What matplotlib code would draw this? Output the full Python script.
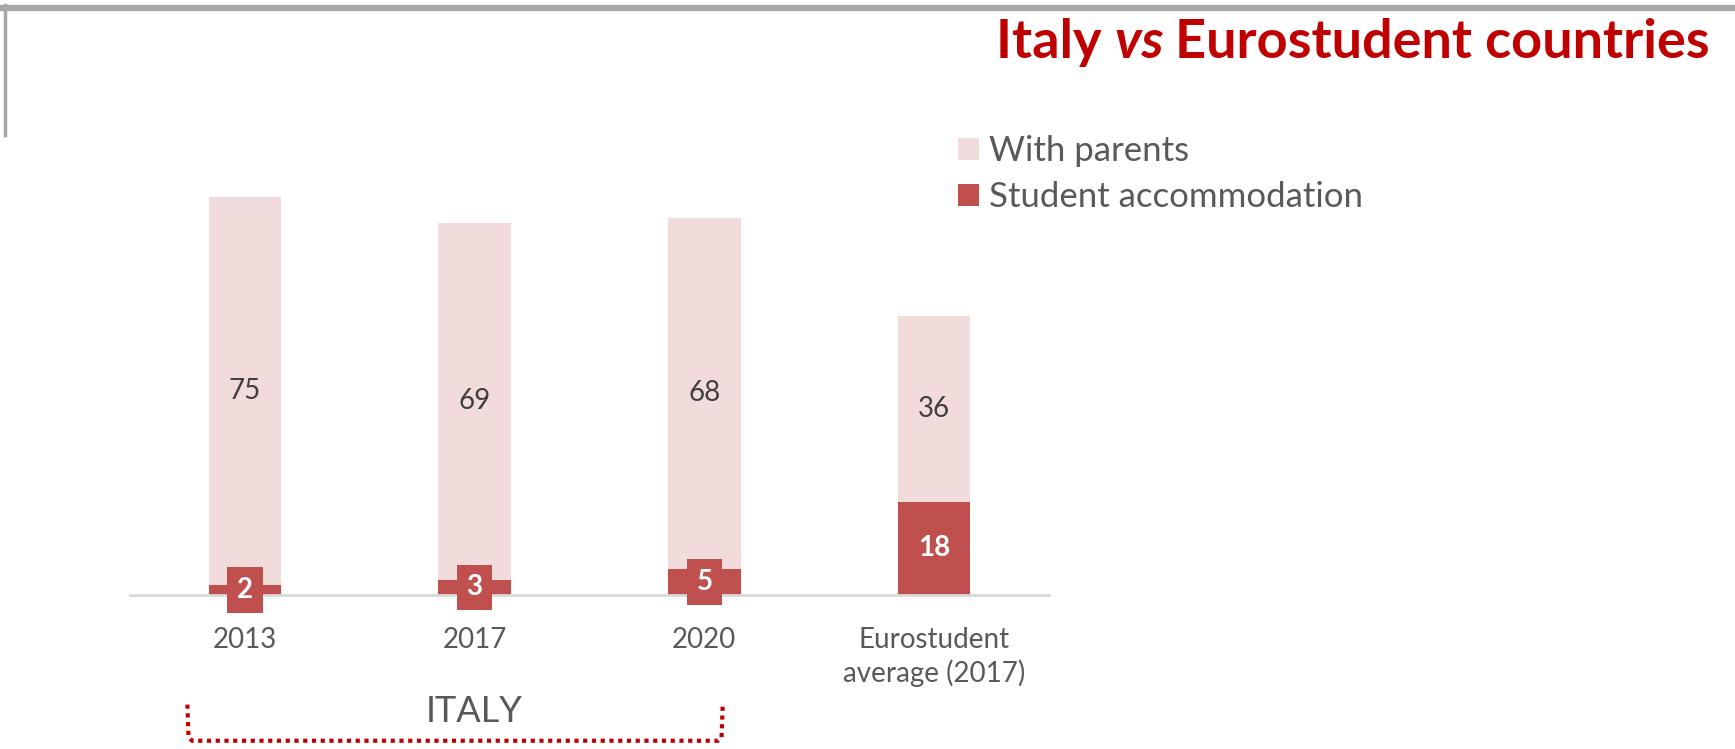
import numpy as np
import matplotlib.pyplot as plt
from matplotlib.lines import Line2D

plt.rcParams['font.family'] = ['Lato', 'DejaVu Sans']

categories = ['2013', '2017', '2020', 'Eurostudent\naverage (2017)']
student_acc = [2, 3, 5, 18]
with_parents = [75, 69, 68, 36]

light = '#F2DCDB'
dark = '#C0504D'
grey_txt = '#595959'
title_red = '#C00000'

fig = plt.figure(figsize=(17.35, 7.49), dpi=100)
ax = fig.add_axes([0.0749, 0.2056, 0.5297, 0.552])

x = np.arange(len(categories))
w = 0.315
ax.bar(x, student_acc, w, color=dark, label='Student accommodation')
ax.bar(x, with_parents, w, bottom=student_acc, color=light, label='With parents')

ax.set_xlim(-0.5, len(categories) - 0.5)
ax.set_ylim(0, 80)
for s in ['top', 'right', 'left']:
    ax.spines[s].set_visible(False)
ax.spines['bottom'].set_color('#D9D9D9')
ax.spines['bottom'].set_linewidth(2)
ax.set_yticks([])
ax.set_xticks(x)
ax.set_xticklabels(categories, fontsize=20, color=grey_txt, linespacing=1.3)
ax.tick_params(axis='x', length=0, pad=23)

# value labels
for i in range(len(categories)):
    a = student_acc[i]
    p = with_parents[i]
    ax.text(x[i], a + p / 2, str(p), ha='center', va='center', fontsize=20, color='#404040')
    if a < 10:
        ax.text(x[i], a / 2, str(a), ha='center', va='center', fontsize=20,
                color='white', fontweight='bold',
                bbox=dict(boxstyle='square,pad=0.35', fc=dark, ec='none'))
    else:
        ax.text(x[i], a / 2, str(a), ha='center', va='center', fontsize=20,
                color='white', fontweight='bold')

# legend
handles, labels = ax.get_legend_handles_labels()
leg = fig.legend(handles[::-1], labels[::-1], loc='upper left', bbox_to_anchor=(0.552, 0.82),
                 frameon=False, fontsize=25, handlelength=0.6, handleheight=0.6,
                 handletextpad=0.3, labelspacing=0.42, labelcolor=grey_txt,
                 borderpad=0, borderaxespad=0)

# ITALY bracket
ax.text(1, -22.5, 'ITALY', ha='center', va='center', fontsize=26, color=grey_txt)
bx = [-0.25, -0.245, -0.23, 2.06, 2.075, 2.08]
by = [-21.2, -27.5, -28.2, -28.2, -27.5, -21.2]
ax.plot(bx, by, color=title_red, lw=3, ls=(0, (1, 1.1)), clip_on=False)

# title: "Italy vs Eurostudent countries" with italic "vs"
fig.canvas.draw()
r = fig.canvas.get_renderer()
t3 = fig.text(0.9856, 0.9226, 'Eurostudent countries', ha='right', va='baseline',
              fontsize=39, color=title_red, fontweight='bold')
bb = t3.get_window_extent(r)
t2 = fig.text(bb.x0 / fig.bbox.width, 0.9226, 'vs ', ha='right', va='baseline',
              fontsize=39, color=title_red, fontweight='bold', fontstyle='italic')
bb = t2.get_window_extent(r)
fig.text(bb.x0 / fig.bbox.width, 0.9226, 'Italy ', ha='right', va='baseline',
         fontsize=39, color=title_red, fontweight='bold')

# frame
fig.add_artist(Line2D([0, 1], [0.9893, 0.9893], transform=fig.transFigure,
                      color='#A6A6A6', lw=4.5))
fig.add_artist(Line2D([0.0026, 0.0026], [0.993, 0.82], transform=fig.transFigure,
                      color='#A6A6A6', lw=2.5))

fig.savefig('out.png', dpi=100)
